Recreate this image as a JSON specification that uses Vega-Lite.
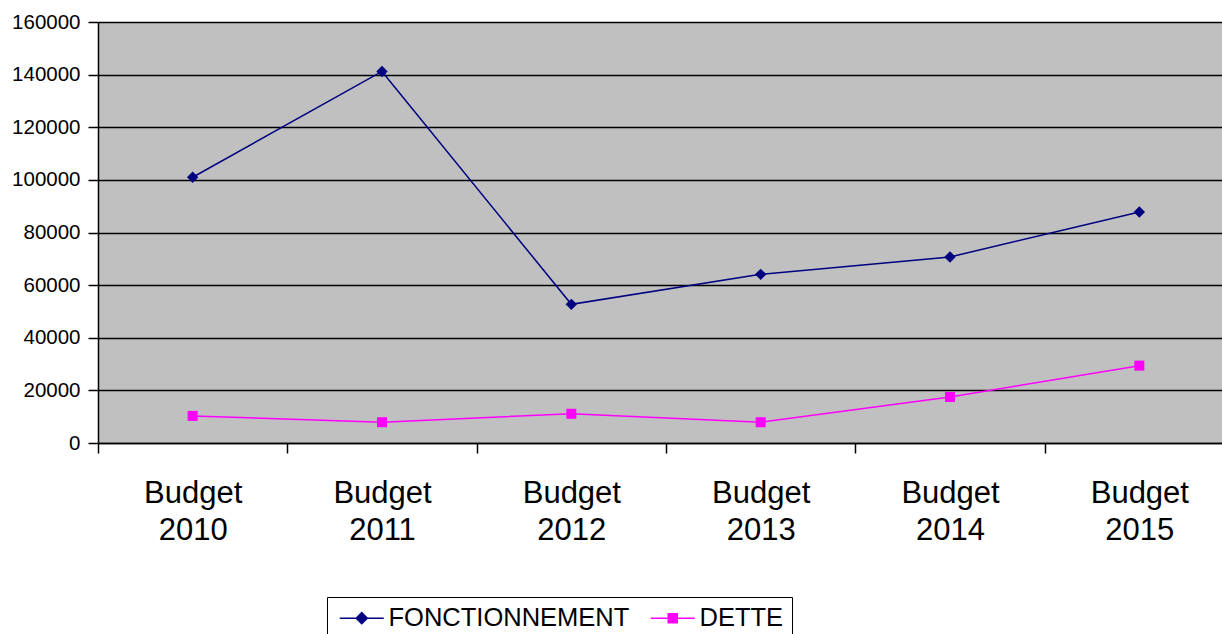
{
  "$schema": "https://vega.github.io/schema/vega-lite/v6.json",
  "width": 1136,
  "height": 421,
  "autosize": {"type": "none"},
  "padding": {"left": 98, "top": 22, "right": 0, "bottom": 191},
  "background": "white",
  "config": {
    "font": "Liberation Sans",
    "view": {"fill": "#C0C0C0", "stroke": null}
  },
  "data": {
    "values": [
      {"annee": "Budget 2010", "serie": "FONCTIONNEMENT", "valeur": 101000},
      {"annee": "Budget 2011", "serie": "FONCTIONNEMENT", "valeur": 141200},
      {"annee": "Budget 2012", "serie": "FONCTIONNEMENT", "valeur": 52700},
      {"annee": "Budget 2013", "serie": "FONCTIONNEMENT", "valeur": 64100},
      {"annee": "Budget 2014", "serie": "FONCTIONNEMENT", "valeur": 70700},
      {"annee": "Budget 2015", "serie": "FONCTIONNEMENT", "valeur": 87800},
      {"annee": "Budget 2010", "serie": "DETTE", "valeur": 10300},
      {"annee": "Budget 2011", "serie": "DETTE", "valeur": 7900},
      {"annee": "Budget 2012", "serie": "DETTE", "valeur": 11100},
      {"annee": "Budget 2013", "serie": "DETTE", "valeur": 7900},
      {"annee": "Budget 2014", "serie": "DETTE", "valeur": 17500},
      {"annee": "Budget 2015", "serie": "DETTE", "valeur": 29400}
    ]
  },
  "encoding": {
    "x": {
      "field": "annee",
      "type": "nominal",
      "sort": null,
      "scale": {"paddingInner": 0, "paddingOuter": 0},
      "axis": {
        "title": null,
        "grid": false,
        "tickBand": "extent",
        "tickSize": 10,
        "tickColor": "black",
        "tickWidth": 1.5,
        "domainColor": "black",
        "domainWidth": 1.5,
        "labelAngle": 0,
        "labelFontSize": 31,
        "labelLineHeight": 37,
        "labelColor": "black",
        "labelPadding": 25,
        "labelExpr": "split(datum.label, ' ')"
      }
    },
    "y": {
      "field": "valeur",
      "type": "quantitative",
      "scale": {"domain": [0, 160000], "nice": false},
      "axis": {
        "title": null,
        "values": [0, 20000, 40000, 60000, 80000, 100000, 120000, 140000, 160000],
        "format": "d",
        "labelFontSize": 20.5,
        "labelColor": "black",
        "labelPadding": 8,
        "tickSize": 10,
        "tickColor": "black",
        "tickWidth": 1.5,
        "domainColor": "black",
        "domainWidth": 1.5,
        "grid": true,
        "gridColor": "black",
        "gridWidth": 1.6,
        "gridOpacity": 1
      }
    }
  },
  "layer": [
    {
      "mark": {"type": "line", "strokeWidth": 1.5},
      "encoding": {
        "color": {
          "field": "serie",
          "type": "nominal",
          "sort": ["FONCTIONNEMENT", "DETTE"],
          "scale": {"domain": ["FONCTIONNEMENT", "DETTE"], "range": ["#000080", "#FF00FF"]},
          "legend": {
            "title": null,
            "orient": "none",
            "legendX": 229,
            "legendY": 575,
            "direction": "horizontal",
            "labelFontSize": 25.5,
            "labelColor": "black",
            "labelLimit": 0,
            "strokeColor": "black",
            "fillColor": "white",
            "padding": 8,
            "symbolSize": 400,
            "symbolOffset": 14,
            "labelOffset": 14,
            "columnPadding": 16,
            "symbolStrokeWidth": 1.5,
            "encode": {
              "symbols": {
                "update": {
                  "shape": {"signal": "datum.value === 'DETTE' ? 'M-2.2,0L2.2,0M-0.45,-0.45L0.45,-0.45L0.45,0.45L-0.45,0.45Z' : 'M-2.2,0L2.2,0M0,-0.55L0.55,0L0,0.55L-0.55,0Z'"},
                  "fill": {"signal": "datum.value === 'DETTE' ? '#FF00FF' : '#000080'"},
                  "stroke": {"signal": "datum.value === 'DETTE' ? '#FF00FF' : '#000080'"},
                  "opacity": {"value": 1},
                  "fillOpacity": {"value": 1}
                }
              }
            }
          }
        }
      }
    },
    {
      "transform": [{"filter": "datum.serie === 'FONCTIONNEMENT'"}],
      "mark": {"type": "point", "shape": "diamond", "filled": true, "opacity": 1, "size": 130, "color": "#000080"}
    },
    {
      "transform": [{"filter": "datum.serie === 'DETTE'"}],
      "mark": {"type": "point", "shape": "square", "filled": true, "opacity": 1, "size": 100, "color": "#FF00FF"}
    }
  ]
}
